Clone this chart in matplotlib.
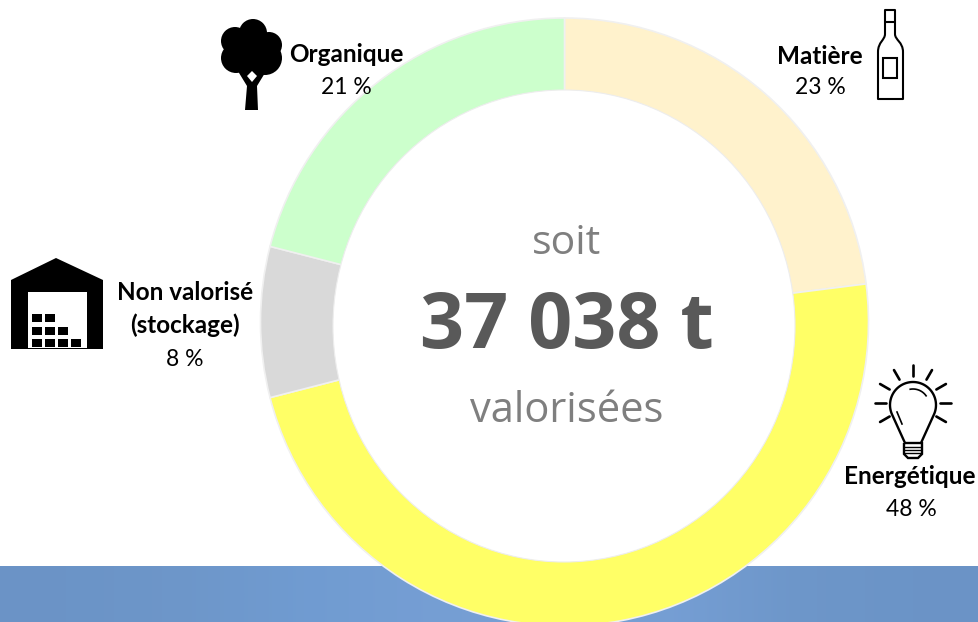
import matplotlib
matplotlib.use('Agg')
import matplotlib.pyplot as plt
import numpy as np
from matplotlib.patches import Circle, Ellipse, Polygon, Rectangle, PathPatch
from matplotlib.path import Path

# Data
categories = ['Matière', 'Energétique', 'Non valorisé\n(stockage)', 'Organique']
shares = [23, 48, 8, 21]
colors = ['#FFF2CC', '#FFFF66', '#D9D9D9', '#CCFFCC']
center_lines = ['soit', '37 038 t', 'valorisées']

W, H = 979, 622


def Y(y):
    # y measured from the top of the picture
    return H - y


fig = plt.figure(figsize=(W / 100, H / 100), dpi=100)
ax = fig.add_axes([0, 0, 1, 1])

# blue band at the bottom, slightly lighter in the middle
band = np.array([[0.42, 0.58, 0.78], [0.43, 0.59, 0.79], [0.44, 0.61, 0.82], [0.46, 0.62, 0.83],
                 [0.47, 0.62, 0.83], [0.46, 0.62, 0.83], [0.43, 0.59, 0.79], [0.42, 0.58, 0.78]])
ax.imshow(band[np.newaxis, :, :], extent=(0, W, 0, H - 566), aspect='auto', zorder=1, interpolation='bilinear')

# ring: the hole is a little off centre and not quite round
ax.pie(shares, colors=colors, startangle=90, counterclock=False, radius=304, center=(564.5, Y(322)),
       wedgeprops=dict(edgecolor='#F0F0F0', linewidth=1.2, zorder=2))
ax.add_patch(Ellipse((564, Y(326)), 462, 472, facecolor='white', edgecolor='#EDEDED', lw=0.8, zorder=2.5))
ax.set_xlim(0, W)
ax.set_ylim(0, H)
ax.set_aspect('auto')
ax.axis('off')

# centre text
ax.text(567, Y(244), center_lines[0], ha='center', va='center', fontsize=29.5, color='#7F7F7F', family='Open Sans')
ax.text(567, Y(328), center_lines[1], ha='center', va='center', fontsize=55.5, color='#595959', family='Open Sans', weight='bold')
ax.text(567, Y(411), center_lines[2], ha='center', va='center', fontsize=30, color='#7F7F7F', family='Open Sans')

# labels
label_style = dict(ha='center', va='center', color='black', family='Lato')
ax.text(820, Y(56), categories[0], weight='bold', fontsize=17.5, **label_style)
ax.text(820, Y(87), f'{shares[0]} %', fontsize=16.5, **label_style)
ax.text(910, Y(477), categories[1], weight='bold', fontsize=17.5, **label_style)
ax.text(911, Y(509), f'{shares[1]} %', fontsize=16.5, **label_style)
ax.text(185, Y(293), 'Non valorisé', weight='bold', fontsize=17.5, **label_style)
ax.text(185, Y(325), '(stockage)', weight='bold', fontsize=17.5, **label_style)
ax.text(185, Y(359), f'{shares[2]} %', fontsize=16.5, **label_style)
ax.text(346, Y(55), categories[3], weight='bold', fontsize=17.5, **label_style)
ax.text(346, Y(87), f'{shares[3]} %', fontsize=16.5, **label_style)

# warehouse icon
ax.add_patch(Polygon([(11, Y(349)), (11, Y(280)), (56, Y(258)), (103, Y(280)), (103, Y(349))], color='black', lw=0))
ax.add_patch(Rectangle((28, Y(349)), 59, 57, color='white', lw=0))
for row_y, n in [(314, 2), (327, 3), (339, 4)]:
    for i in range(n):
        ax.add_patch(Rectangle((32.5 + i * 12.7, Y(row_y + 8)), 10, 8, color='black', lw=0))
ax.add_patch(Rectangle((28, Y(349)), 59, 1.5, color='black', lw=0))

# tree icon
for cx, cy, r in [(253, 33, 14), (235, 41, 14), (269, 45, 13), (236, 58, 15), (265, 58, 17), (252, 50, 22)]:
    ax.add_patch(Circle((cx, Y(cy)), r, color='black', lw=0))
ax.add_patch(Polygon([(245, Y(110)), (258, Y(110)), (257, Y(86)), (268, Y(68)), (236, Y(68)), (247, Y(86))], color='black', lw=0))
ax.add_patch(Polygon([(252, Y(71)), (257, Y(76)), (252, Y(82)), (247, Y(76))], color='white', lw=0))

# bottle icon
bottle_verts = [(885, 22), (885, 10), (895, 10), (895, 22), (885, 22), (885, 34), (885, 40), (878, 42), (878, 52),
                (878, 99), (903, 99), (903, 52), (903, 42), (895, 40), (895, 34), (895, 22)]
bottle_codes = [Path.MOVETO, Path.LINETO, Path.LINETO, Path.LINETO, Path.LINETO, Path.LINETO, Path.CURVE4, Path.CURVE4,
                Path.CURVE4, Path.LINETO, Path.LINETO, Path.LINETO, Path.CURVE4, Path.CURVE4, Path.CURVE4, Path.LINETO]
bottle_verts = [(x, Y(y)) for x, y in bottle_verts]
ax.add_patch(PathPatch(Path(bottle_verts, bottle_codes), fill=False, edgecolor='black', lw=1.5, joinstyle='round'))
ax.add_patch(Rectangle((883.5, Y(78)), 14, 20, fill=False, edgecolor='black', lw=1.5))

# bulb icon
bx, by = 913, 405
t = np.radians(np.linspace(-25, 205, 60))
outline = [(921, Y(443))] + [(bx + 23 * np.cos(a), Y(by) + 23 * np.sin(a)) for a in t] + [(905, Y(443))]
ax.add_patch(PathPatch(Path(outline), fill=False, edgecolor='black', lw=1.7))
ax.add_patch(PathPatch(Path([(904, Y(443)), (922, Y(443)), (922, Y(454)), (918, Y(458)), (908, Y(458)), (904, Y(454)), (904, Y(443))]),
                       facecolor='white', edgecolor='black', lw=1.7))
for sy in [447, 450, 453]:
    ax.plot([905, 921], [Y(sy), Y(sy)], color='black', lw=1)
for deg in [90, 60, 30, 0, -30, 120, 150, 180, 210]:
    a = np.radians(deg)
    ax.plot([bx + 27 * np.cos(a), bx + 38 * np.cos(a)], [Y(403) + 27 * np.sin(a), Y(403) + 38 * np.sin(a)],
            color='black', lw=1.9, solid_capstyle='round')
t = np.radians(np.linspace(35, 100, 15))
ax.plot(bx + 16 * np.cos(t), Y(by) + 16 * np.sin(t), color='black', lw=1.2)
ax.plot([897, 902], [Y(412), Y(424)], color='black', lw=1.2)

plt.savefig('out.png', dpi=100)
